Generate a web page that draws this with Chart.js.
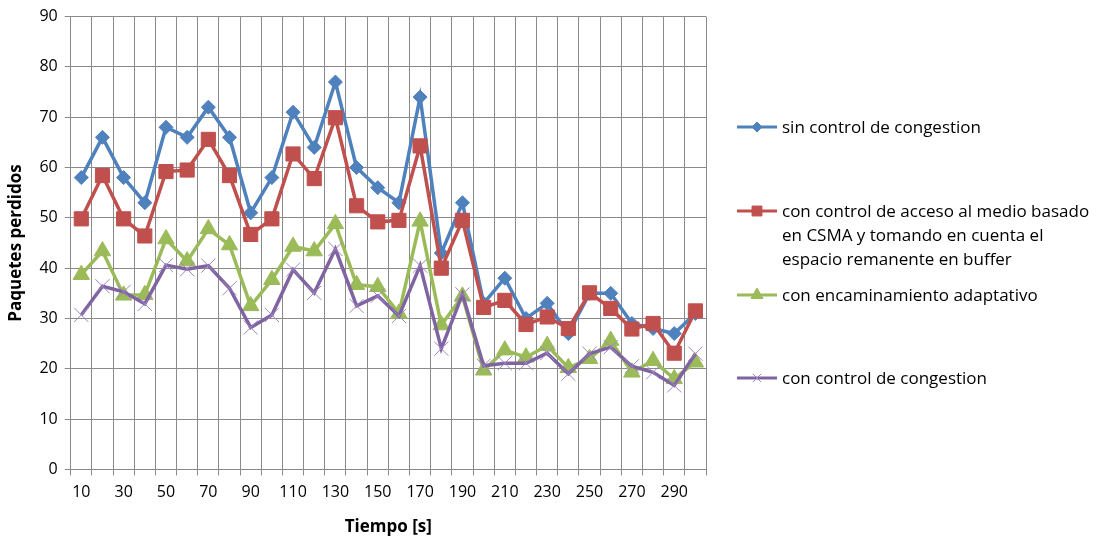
<!DOCTYPE html>
<html>
<head>
<meta charset="utf-8">
<script src="https://cdn.jsdelivr.net/npm/chart.js@4/dist/chart.umd.min.js"></script>
<style>
  body { margin: 0; background: #fff; }
  #wrap { position: relative; width: 1097px; height: 541px; }
  .item { position: absolute; left: 735px; width: 365px; font: 17px "Open Sans", sans-serif; line-height: 24px; color: #000; }
  .item canvas { position: absolute; left: 0; top: 0; }
  .item span { display: block; margin-left: 47px; }
</style>
</head>
<body>
<div id="wrap">
  <canvas id="chart" width="1097" height="541"></canvas>
</div>
<script>
const times = [10, 20, 30, 40, 50, 60, 70, 80, 90, 100, 110, 120, 130, 140, 150,
  160, 170, 180, 190, 200, 210, 220, 230, 240, 250, 260, 270, 280, 290, 300];

const sinControl = [58, 66, 58, 53, 68, 66, 72, 66, 51, 58, 71, 64, 77, 60, 56,
  53, 74, 43, 53, 33, 38, 30, 33, 27, 35, 35, 29, 28, 27, 31];
const accesoCSMA = [49.8, 58.4, 49.8, 46.4, 59.2, 59.5, 65.6, 58.4, 46.7, 49.8, 62.7, 57.8, 69.9, 52.4, 49.2,
  49.5, 64.3, 40, 49.5, 32.2, 33.6, 28.8, 30.3, 28, 35.1, 32, 27.9, 29, 23.1, 31.5];
const encaminamiento = [38.7, 43.4, 34.6, 34.7, 45.8, 41.4, 47.8, 44.6, 32.5, 37.7, 44.3, 43.4, 48.8, 36.7, 36.3,
  31, 49.3, 28.7, 34.4, 19.7, 23.7, 22.3, 24.6, 20.2, 22, 25.6, 19.3, 21.6, 18, 21.3];
const conControl = [30.7, 36.4, 35.3, 32.9, 40.6, 39.8, 40.5, 36, 28.2, 30.7, 39.7, 35.1, 43.8, 32.5, 34.5,
  30.5, 40.5, 24, 34.8, 20.6, 21.1, 21.1, 23.1, 19, 23, 24.3, 20.5, 19.3, 16.7, 23];

const seriesNames = [
  "sin control de congestion",
  "con control de acceso al medio basado en CSMA y tomando en cuenta el espacio remanente en buffer",
  "con encaminamiento adaptativo",
  "con control de congestion",
];

const font = "'Open Sans', sans-serif";

function series(label, data, color, style, radius, order, pointBorder) {
  return {
    label: label,
    data: data,
    borderColor: color,
    backgroundColor: color,
    borderWidth: 3.5,
    pointStyle: style,
    pointRadius: radius,
    pointHoverRadius: radius,
    pointBackgroundColor: color,
    pointBorderColor: pointBorder || color,
    pointBorderWidth: 1,
    tension: 0,
    order: order,
  };
}

const datasets = [
  series(seriesNames[0], sinControl, "#4F81BD", "rectRot", 7, 4),
  series(seriesNames[1], accesoCSMA, "#C0504D", "rect", 10, 3),
  series(seriesNames[2], encaminamiento, "#9BBB59", "triangle", 9.5, 2),
  series(seriesNames[3], conControl, "#8064A2", "crossRot", 10, 1, "#9D87C2"),
];

new Chart(document.getElementById("chart"), {
  type: "line",
  data: { labels: times, datasets: datasets },
  options: {
    responsive: false,
    animation: false,
    events: [],
    layout: { padding: { top: 1, right: 391, bottom: 4, left: 6 } },
    plugins: {
      legend: { display: false },
      tooltip: { enabled: false },
    },
    scales: {
      x: {
        type: "category",
        offset: true,
        grid: { offset: true, color: "#8a8a8a", tickLength: 6, lineWidth: 1 },
        border: { color: "#8a8a8a" },
        ticks: {
          autoSkip: false,
          maxRotation: 0,
          padding: 7,
          color: "#000",
          font: { family: font, size: 16 },
          callback: (val, i) => (i % 2 === 0 ? String(times[i]) : ""),
        },
        title: {
          display: true,
          text: "Tiempo [s]",
          color: "#000",
          font: { family: font, size: 17, weight: "bold" },
          padding: { top: 8, bottom: 0 },
        },
      },
      y: {
        min: 0,
        max: 90,
        grid: { color: "#8a8a8a", tickLength: 6 },
        border: { color: "#8a8a8a" },
        ticks: {
          stepSize: 10,
          padding: 7,
          color: "#000",
          font: { family: font, size: 16 },
        },
        title: {
          display: true,
          text: "Paquetes perdidos",
          color: "#000",
          font: { family: font, size: 17, weight: "bold" },
          padding: { top: 0, bottom: 6 },
        },
      },
    },
  },
});

// legend on the right, built from the datasets
const legendTops = [115, 199, 283, 366];
const legendRadius = [5, 7, 7, 6];
datasets.forEach((ds, i) => {
  const item = document.createElement("div");
  item.className = "item";
  item.style.top = legendTops[i] + "px";
  const icon = document.createElement("canvas");
  icon.width = 44;
  icon.height = 24;
  const ctx = icon.getContext("2d");
  ctx.strokeStyle = ds.borderColor;
  ctx.lineWidth = 3;
  ctx.beginPath();
  ctx.moveTo(2, 12);
  ctx.lineTo(42, 12);
  ctx.stroke();
  ctx.fillStyle = ds.backgroundColor;
  ctx.strokeStyle = ds.pointBorderColor;
  ctx.lineWidth = 1;
  Chart.helpers.drawPoint(ctx, { pointStyle: ds.pointStyle, radius: legendRadius[i], borderWidth: 1, rotation: 0 }, 22, 12);
  item.appendChild(icon);
  const text = document.createElement("span");
  text.style.width = "318px";
  text.textContent = ds.label;
  item.appendChild(text);
  document.getElementById("wrap").appendChild(item);
});
</script>
</body>
</html>
